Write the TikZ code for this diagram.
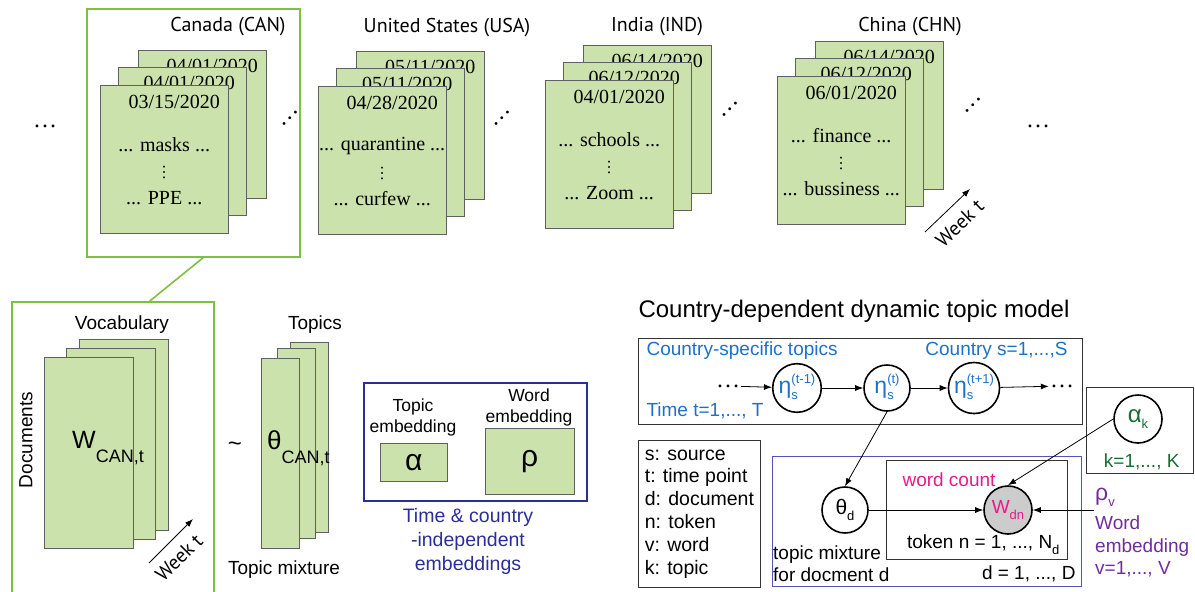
\documentclass[tikz,border=0pt]{standalone}
\usepackage{fontspec}
\usepackage{tikz}
\usetikzlibrary{arrows.meta,positioning}
\setmainfont{Liberation Sans}
\newfontfamily\datefont{Liberation Serif}
\newfontfamily\countryfont{PT Sans}
\definecolor{cardgreen}{RGB}{203,226,172}
\definecolor{framegreen}{RGB}{128,192,64}
\definecolor{embblue}{RGB}{42,46,150}
\definecolor{topicblue}{RGB}{30,112,200}
\definecolor{alphagreen}{RGB}{24,110,48}
\definecolor{countpink}{RGB}{236,24,136}
\definecolor{wordpurple}{RGB}{112,44,156}
\definecolor{plateblue}{RGB}{84,84,190}
\newcommand{\lsub}[2]{#1\raisebox{-6pt}{\fontsize{13}{13}\selectfont #2}}
\newcommand{\supsub}[3]{#1\raisebox{-6pt}{\fontsize{13}{16}\selectfont\begin{tabular}[b]{@{}l@{}}#2\\#3\end{tabular}}}
\newcommand{\docstack}[8]{%
\node[card] (#1c) at (#2+38,#3-35) {};
\node[datelab] (#1dc) at ([xshift=10pt,yshift=-16pt]#1c.north) {#4};
\node[card] (#1b) at (#2+18,#3-18) {};
\node[datelab] (#1db) at ([xshift=7pt,yshift=-16pt]#1b.north) {#5};
\node[card] (#1a) at (#2,#3) {};
\node[datelab] (#1da) at ([xshift=10pt,yshift=-17pt]#1a.north) {#6};
\node[datelab] (#1wa) at ([yshift=-60pt]#1a.north) {... #7 ...};
\node[datelab, rotate=90, font=\datefont\fontsize{16}{16}\selectfont] (#1vd) at ([yshift=-87pt]#1a.north) {…};
\node[datelab] (#1wb) at ([yshift=-113pt]#1a.north) {... #8 ...};
}

\begin{document}
\begin{tikzpicture}[x=1pt, y=-1pt, >={Latex[length=8pt,width=6pt]},
  card/.style={draw=gray!75!black, fill=cardgreen, anchor=north west, minimum width=128pt, minimum height=148pt, inner sep=0pt},
  datelab/.style={font=\datefont\fontsize{20}{20}\selectfont, inner sep=0pt},
  ctylab/.style={font=\countryfont\fontsize{20}{20}\selectfont},
  lab/.style={font=\fontsize{19}{19}\selectfont},
  dotsym/.style={font=\datefont\fontsize{24}{24}\selectfont, inner sep=1pt},
  greenframe/.style={draw=framegreen, line width=1.6pt, anchor=north west},
  plate/.style={draw=black!80, line width=0.9pt, anchor=north west},
  var/.style={circle, draw, line width=1.6pt, minimum size=46pt, inner sep=0pt},
  bluelab/.style={text=topicblue, font=\fontsize{19}{19}\selectfont}]
\useasboundingbox (0,0) rectangle (1195,592);

% documents per country
\node[dotsym] (dots0) at (45,126) {…};
\node[greenframe, minimum width=213pt, minimum height=248pt] (canbox) at (86,8) {};
\node[ctylab] (canl) at (228,27) {Canada (CAN)};
\docstack{can}{100}{85}{04/01/2020}{04/01/2020}{03/15/2020}{masks}{PPE}
\node[dotsym, rotate=45] (dots1) at (290,118) {…};
\node[ctylab] (usal) at (447,28) {United States (USA)};
\docstack{usa}{318}{86}{05/11/2020}{05/11/2020}{04/28/2020}{quarantine}{curfew}
\node[dotsym, rotate=45] (dots2) at (502,118) {…};
\node[ctylab] (indl) at (657,27) {India (IND)};
\docstack{ind}{545}{80}{06/14/2020}{06/12/2020}{04/01/2020}{schools}{Zoom}
\node[dotsym, rotate=45] (dots3) at (730,109) {…};
\node[ctylab] (chnl) at (910,27) {China (CHN)};
\docstack{chn}{777}{76}{06/14/2020}{06/12/2020}{06/01/2020}{finance}{bussiness}
\node[dotsym, rotate=45] (dots4) at (973,105) {…};
\node[dotsym] (dots5) at (1038,126) {…};
\coordinate (wk1) at (925,232);
\coordinate (wk2) at (970,189);
\draw[->, line width=0.8pt] (wk1) -- (wk2) node[midway, below=9pt, sloped, ctylab, inner sep=1pt] (wkt1) {Week t};

% matrices for one country
\node[greenframe, minimum width=202pt, minimum height=296pt] (docbox) at (11,301) {};
\draw[framegreen, line width=1.6pt] ([xshift=10pt]canbox.south) -- ([xshift=37pt]docbox.north);
\node[lab] (vocl) at (122,325) {Vocabulary};
\node[lab, rotate=90] (docl) at (26,440) {Documents};
\node[card, minimum width=89pt, minimum height=191pt] (vc3) at (79,339) {};
\node[card, minimum width=89pt, minimum height=191pt] (vc2) at (66,348) {};
\node[card, minimum width=89pt, minimum height=191pt] (vc1) at (44,357) {};
\node[anchor=west, inner sep=0pt, font=\fontsize{25}{25}\selectfont] (wcan) at (72,448) {W\raisebox{-14pt}{\fontsize{18}{18}\selectfont CAN,t}};
\coordinate (wk3) at (149,563);
\coordinate (wk4) at (193,519);
\draw[->, line width=0.8pt] (wk3) -- (wk4) node[pos=0.4, below=9pt, sloped, ctylab, inner sep=1pt] (wkt2) {Week t};
\node[font=\fontsize{24}{24}\selectfont] (tilde) at (235,447) {\textasciitilde};
\node[lab] (topl) at (315,325) {Topics};
\node[card, minimum width=38pt, minimum height=190pt] (tc3) at (290,342) {};
\node[card, minimum width=38pt, minimum height=190pt] (tc2) at (277,348) {};
\node[card, minimum width=38pt, minimum height=190pt] (tc1) at (261,358) {};
\node[anchor=west, inner sep=0pt, font=\fontsize{26}{26}\selectfont] (thcan) at (267,448) {θ\raisebox{-14pt}{\fontsize{18}{18}\selectfont CAN,t}};
\node[lab] (mixl) at (284,570) {Topic mixture};

% shared embeddings
\node[draw=embblue, line width=2pt, anchor=north west, minimum width=223pt, minimum height=118pt] (emb) at (363,382) {};
\node[align=center, font=\fontsize{17.5}{21}\selectfont] (tel) at (413,417) {Topic\\embedding};
\node[card, minimum width=67pt, minimum height=38pt, font=\fontsize{30}{30}\selectfont] (abox) at (380,443) {α};
\node[align=center, font=\fontsize{17.5}{21}\selectfont] (wel) at (529,407) {Word\\embedding};
\node[card, minimum width=89pt, minimum height=66pt, font=\fontsize{30}{30}\selectfont] (rbox) at (485,428) {ρ};
\node[align=center, text=embblue, font=\fontsize{19.5}{24}\selectfont] (embl) at (468,541) {Time \& country\\-independent\\embeddings};

% graphical model
\node[anchor=west, font=\fontsize{24}{24}\selectfont] (title) at (635,311) {Country-dependent dynamic topic model};
\node[plate, minimum width=444pt, minimum height=86pt] (topbox) at (638,338) {};
\node[bluelab, anchor=west] (cst) at (643,351) {Country-specific topics};
\node[bluelab, anchor=east] (cty) at (1071,351) {Country s=1,...,S};
\node[bluelab, anchor=west] (tim) at (643,411) {Time t=1,..., T};
\node[dotsym] (dl) at (728,386) {…};
\node[var, text=topicblue, font=\fontsize{23}{23}\selectfont] (e1) at (797,388) {\supsub{η}{(t-1)}{s}};
\node[var, text=topicblue, font=\fontsize{23}{23}\selectfont] (e2) at (887,388) {\supsub{η}{(t)}{s}};
\node[var, text=topicblue, font=\fontsize{23}{23}\selectfont] (e3) at (974,388) {\supsub{η}{(t+1)}{s}};
\node[dotsym] (dr) at (1062,386) {…};
\draw[->, line width=0.8pt] (dl) -- (e1);
\draw[->, line width=0.8pt] (e1) -- (e2);
\draw[->, line width=0.8pt] (e2) -- (e3);
\draw[->, line width=0.8pt] (e3) -- (dr);

\node[plate, align=left, minimum width=122pt, minimum height=147pt, font=\fontsize{19.5}{22.8}\selectfont] (leg) at (638,440) {s: source\\t: time point\\d: document\\n: token\\v: word\\k: topic};

\node[draw=plateblue, line width=0.8pt, anchor=north west, minimum width=309pt, minimum height=130pt] (dbox) at (772,456) {};
\node[plate, minimum width=181pt, minimum height=99pt] (nbox) at (886,460) {};
\node[var, font=\fontsize{21}{21}\selectfont] (th) at (845,510) {\lsub{θ}{d}};
\node[var, fill=gray!40, text=countpink, minimum size=48pt, font=\fontsize{19}{19}\selectfont] (w) at (1008,510) {\lsub{W}{dn}};
\node[text=countpink, font=\fontsize{19}{19}\selectfont] (wcl) at (949,480) {word count};
\node[anchor=east, font=\fontsize{19}{19}\selectfont] (tokl) at (1063,545) {token n = 1, ..., \lsub{N}{d}};
\node[anchor=east, font=\fontsize{19}{19}\selectfont] (dl2) at (1079,574) {d = 1, ..., D};
\node[anchor=west, align=left, font=\fontsize{19}{22}\selectfont, inner sep=1pt] (mixd) at (772,564) {topic mixture\\for docment d};

\node[plate, minimum width=107pt, minimum height=86pt] (abox2) at (1086,387) {};
\node[var, text=alphagreen, minimum size=48pt, font=\fontsize{24}{24}\selectfont] (ak) at (1138,419) {\lsub{α}{k}};
\node[anchor=east, text=alphagreen, font=\fontsize{19}{19}\selectfont] (kl) at (1183,462) {k=1,..., K};

\node[anchor=west, text=wordpurple, inner sep=1pt, font=\fontsize{23}{23}\selectfont] (rv) at (1094,497) {\lsub{ρ}{v}};
\node[anchor=north west, align=left, text=wordpurple, inner sep=1pt, font=\fontsize{19}{22.5}\selectfont] (rvl) at (1094,515) {Word\\embedding\\v=1,..., V};

\draw[->, line width=0.8pt] (e2.south) -- (th.north);
\draw[->, line width=0.8pt] (th) -- (w);
\draw[->, line width=0.8pt] (ak.west) -- (w.north);
\draw[->, line width=0.8pt] (rv.west |- w.east) -- (w);
\end{tikzpicture}
\end{document}
